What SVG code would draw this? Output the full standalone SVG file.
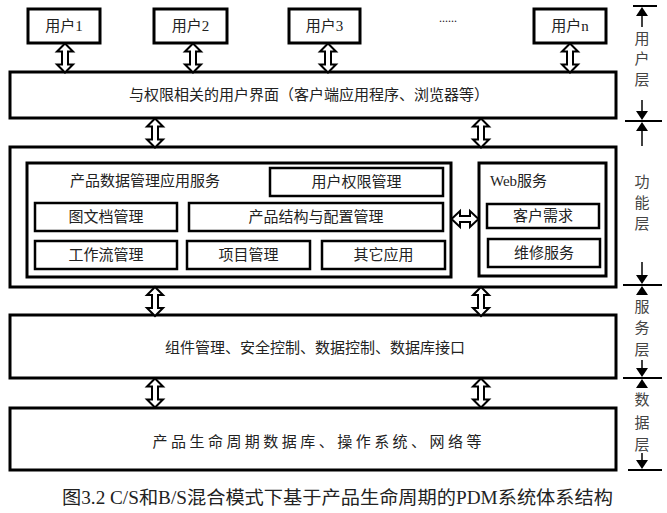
<svg xmlns="http://www.w3.org/2000/svg" width="667" height="513" viewBox="0 0 667 513">
<style>
.box{fill:#fff;stroke:#000;stroke-width:3}
.ibox{fill:#fff;stroke:#000;stroke-width:2.5}
.t{font-family:"Liberation Serif","Noto Sans CJK SC",serif;font-size:15px;fill:#222;text-anchor:middle}
.tl{font-family:"Liberation Serif","Noto Sans CJK SC",serif;font-size:15px;fill:#222}
.side{font-family:"Liberation Serif","Noto Sans CJK SC",serif;font-size:15px;fill:#444;text-anchor:middle}
.dar{fill:#fff;stroke:#000;stroke-width:2;stroke-linejoin:miter}
.tick{stroke:#000;stroke-width:2}
.stem{stroke:#000;stroke-width:1.5}
.head{fill:#000}
</style>
<defs>
<path id="vda" class="dar" d="M0,0 L8,8 L3,8 L3,21 L8,21 L0,29 L-8,21 L-3,21 L-3,8 L-8,8 Z"/>
</defs>

<g id="user1"><rect class="box" x="28" y="9" width="72" height="34"/><text class="t" x="64" y="31">用户1</text></g>
<g id="user2"><rect class="box" x="154" y="9" width="73" height="34"/><text class="t" x="190.5" y="31">用户2</text></g>
<g id="user3"><rect class="box" x="289" y="9" width="71" height="34"/><text class="t" x="324.5" y="31">用户3</text></g>
<g id="dots"><text class="t" x="448" y="22" style="font-size:12px">......</text></g>
<g id="usern"><rect class="box" x="534" y="9" width="72" height="34"/><text class="t" x="570" y="31">用户n</text></g>

<g id="ui"><rect class="box" x="10" y="72" width="606" height="46"/><text class="t" x="309" y="100">与权限相关的用户界面（客户端应用程序、浏览器等）</text></g>

<g id="func">
<rect class="box" x="10" y="147" width="606" height="140"/>
</g>
<g id="pdm">
<rect class="box" x="27" y="163" width="424" height="114"/>
<text class="tl" x="70" y="186">产品数据管理应用服务</text>
</g>
<g id="perm"><rect class="ibox" x="270" y="168" width="173" height="28"/><text class="t" x="356.5" y="187">用户权限管理</text></g>
<g id="doc"><rect class="ibox" x="35" y="203" width="142" height="28"/><text class="t" x="106" y="222">图文档管理</text></g>
<g id="struct"><rect class="ibox" x="189" y="203" width="254" height="28"/><text class="t" x="316" y="222">产品结构与配置管理</text></g>
<g id="wf"><rect class="ibox" x="35" y="241" width="142" height="28"/><text class="t" x="106" y="260">工作流管理</text></g>
<g id="proj"><rect class="ibox" x="187" y="241" width="123" height="28"/><text class="t" x="248.5" y="260">项目管理</text></g>
<g id="other"><rect class="ibox" x="322" y="241" width="123" height="28"/><text class="t" x="383.5" y="260">其它应用</text></g>
<g id="web">
<rect class="box" x="479" y="163" width="127" height="113"/>
<text class="tl" x="490" y="186">Web服务</text>
</g>
<g id="req"><rect class="ibox" x="487" y="204" width="112" height="24"/><text class="t" x="543" y="221">客户需求</text></g>
<g id="maint"><rect class="ibox" x="488" y="239" width="112" height="28"/><text class="t" x="544" y="258">维修服务</text></g>

<g id="svc"><rect class="box" x="10" y="315" width="606" height="63"/><text class="t" x="315" y="353">组件管理、安全控制、数据控制、数据库接口</text></g>
<g id="data"><rect class="box" x="10" y="408" width="606" height="62"/><text class="t" x="317" y="447" textLength="329" lengthAdjust="spacing">产品生命周期数据库、操作系统、网络等</text></g>

<g id="connectors">
<use href="#vda" x="65" y="43.5"/>
<use href="#vda" x="193" y="43.5"/>
<use href="#vda" x="328" y="43.5"/>
<use href="#vda" x="570" y="43.5"/>
<use href="#vda" x="155" y="118.5"/>
<use href="#vda" x="481" y="118.5"/>
<use href="#vda" x="155" y="287"/>
<use href="#vda" x="481" y="287"/>
<use href="#vda" x="155" y="378.5"/>
<use href="#vda" x="481" y="378.5"/>
<path class="dar" d="M451.5,219 L460,211 L460,216 L470,216 L470,211 L478.5,219 L470,227 L470,222 L460,222 L460,227 Z"/>
</g>

<g id="scale">
<line class="tick" x1="633" y1="6" x2="657" y2="6"/>
<line class="tick" x1="625" y1="121" x2="662" y2="121"/>
<line class="tick" x1="623" y1="285" x2="662" y2="285"/>
<line class="tick" x1="623" y1="378" x2="662" y2="378"/>
<line class="tick" x1="628" y1="470" x2="662" y2="470"/>
<line class="stem" x1="642" y1="14" x2="642" y2="27"/>
<path class="head" d="M642,7 L636,16 L648,16 Z"/>
<line class="stem" x1="642" y1="100" x2="642" y2="113"/>
<path class="head" d="M642,120 L636,111 L648,111 Z"/>
<path class="head" d="M642,122 L636,131 L648,131 Z"/>
<line class="stem" x1="642" y1="129" x2="642" y2="146"/>
<line class="stem" x1="642" y1="262" x2="642" y2="277"/>
<path class="head" d="M642,284 L636,275 L648,275 Z"/>
<path class="head" d="M642,286 L636,295 L648,295 Z"/>
<line class="stem" x1="642" y1="360" x2="642" y2="370"/>
<path class="head" d="M642,377 L636,368 L648,368 Z"/>
<path class="head" d="M642,379 L636,388 L648,388 Z"/>
<line class="stem" x1="642" y1="453" x2="642" y2="462"/>
<path class="head" d="M642,469 L636,460 L648,460 Z"/>
<text class="side" x="642" y="44">用</text>
<text class="side" x="642" y="64">户</text>
<text class="side" x="642" y="85">层</text>
<text class="side" x="642" y="187">功</text>
<text class="side" x="642" y="208">能</text>
<text class="side" x="642" y="229">层</text>
<text class="side" x="642" y="312">服</text>
<text class="side" x="642" y="333">务</text>
<text class="side" x="642" y="355">层</text>
<text class="side" x="642" y="405">数</text>
<text class="side" x="642" y="428">据</text>
<text class="side" x="642" y="450">层</text>
</g>

<text class="t" x="337.5" y="504" style="font-size:18px" textLength="551" lengthAdjust="spacingAndGlyphs">图3.2 C/S和B/S混合模式下基于产品生命周期的PDM系统体系结构</text>
</svg>
